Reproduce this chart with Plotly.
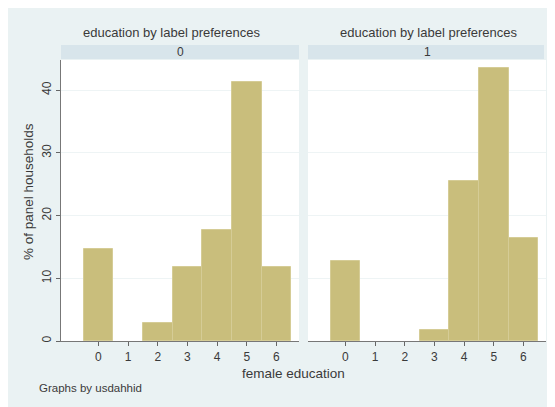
import plotly.graph_objects as go

categories = [0, 1, 2, 3, 4, 5, 6]
pct_group0 = [14.7, 0, 2.9, 11.8, 17.7, 41.3, 11.8]
pct_group1 = [12.8, 0, 0, 1.8, 25.5, 43.6, 16.5]
panel_labels = ["0", "1"]
panel_title = "education by label preferences"
y_ticks = [0, 10, 20, 30, 40]

# page body has an 8px margin, which gives the white border of the reference
OFF = 8
W, H = 555 - OFF, 407 - OFF
# reference pixel positions of plot areas
REF_L, REF_R, REF_T, REF_B = 61, 546, 60, 341
ML, MR, MT, MB = REF_L - OFF, 555 - REF_R, REF_T - OFF, 407 - REF_B
PW = W - ML - MR
PH = H - MT - MB

def px_x(p):
    return (p - OFF - ML) / PW

def px_y(p):
    return (H - MB - (p - OFF)) / PH

BG = "#eaf2f3"
STRIP = "#d8e5eb"
BAR = "#c9be7c"
BAR_LINE = "#d5cc96"
TXT = "#3a3a3a"
FONT = "Liberation Sans, Arial, sans-serif"

dom_left = [0, px_x(299)]
dom_right = [px_x(308), 1]

def line_widths(vals):
    return [0 if v == 0 else 1 for v in vals]

fig = go.Figure()
fig.add_trace(go.Bar(x=categories, y=pct_group0, width=1.0,
                     marker=dict(color=BAR, line=dict(color=BAR_LINE, width=line_widths(pct_group0))),
                     xaxis="x", yaxis="y", showlegend=False))
fig.add_trace(go.Bar(x=categories, y=pct_group1, width=1.0,
                     marker=dict(color=BAR, line=dict(color=BAR_LINE, width=line_widths(pct_group1))),
                     xaxis="x2", yaxis="y2", showlegend=False))

xcommon = dict(range=[-1.26, 6.76], tickmode="array", tickvals=categories,
               ticktext=[str(c) for c in categories], ticks="outside", ticklen=4,
               tickcolor="#666", showline=True, linecolor="#777", linewidth=1.3,
               showgrid=False, zeroline=False,
               tickfont=dict(family=FONT, size=12, color=TXT))
ycommon = dict(range=[0, 44.8], tickmode="array", tickvals=y_ticks,
               showgrid=True, gridcolor="#eef4f5", gridwidth=1, zeroline=False)

fig.update_layout(
    width=W, height=H,
    margin=dict(l=ML, r=MR, t=MT, b=MB, pad=0),
    paper_bgcolor=BG, plot_bgcolor="white",
    bargap=0,
    xaxis=dict(domain=dom_left, anchor="y", **xcommon),
    xaxis2=dict(domain=dom_right, anchor="y2", **xcommon),
    yaxis=dict(domain=[0, 1], anchor="x", ticks="outside", ticklen=4, tickcolor="#666",
               showline=True, linecolor="#777", linewidth=1.3, tickangle=-90,
               tickfont=dict(family=FONT, size=12, color=TXT), **ycommon),
    yaxis2=dict(domain=[0, 1], anchor="x2", showticklabels=False, showline=False,
                ticks="", **ycommon),
    font=dict(family=FONT, color=TXT),
)

shapes = [
    dict(type="rect", xref="paper", yref="paper", layer="below",
         x0=dom_left[0], x1=dom_left[1], y0=px_y(59), y1=px_y(45),
         fillcolor=STRIP, line=dict(width=0)),
    dict(type="rect", xref="paper", yref="paper", layer="below",
         x0=dom_right[0], x1=px_x(544), y0=px_y(59), y1=px_y(45),
         fillcolor=STRIP, line=dict(width=0)),
]
fig.update_layout(shapes=shapes)

ann = []
for title_x, lab_x, lab in [(172, 180, panel_labels[0]), (429, 427, panel_labels[1])]:
    ann.append(dict(x=px_x(title_x), y=px_y(33), xref="paper", yref="paper", text=panel_title,
                    showarrow=False, xanchor="center", yanchor="middle",
                    font=dict(family=FONT, size=13, color=TXT)))
    ann.append(dict(x=px_x(lab_x), y=px_y(52), xref="paper", yref="paper", text=lab,
                    showarrow=False, xanchor="center", yanchor="middle",
                    font=dict(family=FONT, size=12, color=TXT)))
ann.append(dict(x=px_x(293), y=px_y(373), xref="paper", yref="paper",
                text="female education", showarrow=False, xanchor="center",
                yanchor="middle", font=dict(family=FONT, size=13.5, color=TXT)))
ann.append(dict(x=px_x(28), y=px_y(192), xref="paper", yref="paper",
                text="% of panel households", showarrow=False, textangle=-90,
                xanchor="center", yanchor="middle",
                font=dict(family=FONT, size=13.5, color=TXT)))
ann.append(dict(x=px_x(37), y=px_y(388), xref="paper", yref="paper",
                text="Graphs by usdahhid", showarrow=False, xanchor="left",
                yanchor="middle", font=dict(family=FONT, size=11.5, color=TXT)))
fig.update_layout(annotations=ann)

fig.write_html("out.html")
